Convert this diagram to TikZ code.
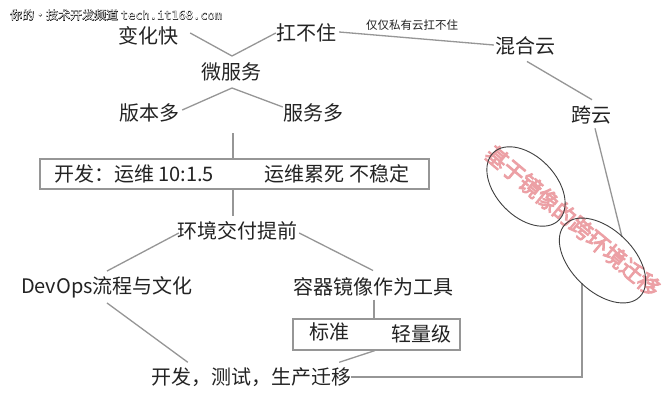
\documentclass[tikz,border=0pt]{standalone}
\usepackage{fontspec}
\setmainfont{Noto Sans CJK SC}
\newfontfamily\cjkbold[FakeBold=4]{Noto Sans CJK SC}
\newfontfamily\monob[FakeBold=3]{DejaVu Sans Mono}
\newfontfamily\monoplain{DejaVu Sans Mono}
\usetikzlibrary{calc}
\definecolor{txt}{RGB}{35,35,35}
\definecolor{ln}{RGB}{150,150,150}
\definecolor{wmpink}{RGB}{236,160,165}
\begin{document}
\begin{tikzpicture}[x=1pt,y=-1pt,
 lbl/.style={inner sep=0pt, text=txt, font=\fontsize{20}{22}\selectfont},
 small/.style={inner sep=0pt, text=txt, font=\fontsize{11.5}{13}\selectfont},
 conn/.style={draw=ln, line width=1.3pt},
 boxn/.style={draw=ln, line width=1.1pt, inner sep=0pt},
 oval/.style={draw=black!75, line width=0.9pt}]
\useasboundingbox[fill=white] (0,0) rectangle (670,402);
% watermark top-left
\node[inner sep=0pt, anchor=west, text=black] (wmA) at (10,15) {\fontsize{12}{14}\selectfont\cjkbold 你的•技术开发频道 {\monob tech.it168.com}};
\node[inner sep=0pt, anchor=west, text=white] (wmB) at (10,15) {\fontsize{12}{14}\selectfont 你的•技术开发频道 {\monoplain tech.it168.com}};
% nodes
\node[lbl] (n1) at (148,36) {变化快};
\node[lbl] (n2) at (306,33) {扛不住};
\node[small] (note) at (412,25) {仅仅私有云扛不住};
\node[lbl] (n3) at (525,46) {混合云};
\node[lbl] (n4) at (231,72) {微服务};
\node[lbl] (n5) at (149,113) {版本多};
\node[lbl] (n6) at (313,113) {服务多};
\node[lbl] (n7) at (591,115) {跨云};
\node[boxn, minimum width=389pt, minimum height=30pt] (box1) at (234.5,174) {};
\node[lbl] (t1) at (134,174) {开发：运维 10:1.5};
\node[lbl] (t2) at (337,174) {运维累死 不稳定};
\node[lbl] (n8) at (237,231) {环境交付提前};
\node[lbl] (n9) at (107,287) {DevOps流程与文化};
\node[lbl] (n10) at (373,287) {容器镜像作为工具};
\node[boxn, minimum width=167pt, minimum height=31pt] (box2) at (376.5,334.5) {};
\node[lbl] (t3) at (329,332) {标准};
\node[lbl] (t4) at (421,334) {轻量级};
\node[lbl] (n11) at (251,377) {开发，测试，生产迁移};
% coordinates
\coordinate (a1) at (232,56);
\coordinate (a2) at (232,88);
\coordinate (c1) at (233,133);
\coordinate (c2) at (233,216);
\coordinate (c3) at (582,283);
\coordinate (c4) at (622,237);
\coordinate (c5) at ([shift={(1,3)}]n10.south);
% connectors
\draw[conn] ([shift={(12,-3)}]n1.east) -- (a1) -- (n2.west);
\draw[conn] ([shift={(3,-1)}]n2.east) -- ([shift={(-1,-1)}]n3.west);
\draw[conn] ([shift={(3,-3)}]n5.east) -- (a2) -- ([shift={(0,-6)}]n6.west);
\draw[conn] ([shift={(2,6)}]n3.south) -- ([shift={(1,-6)}]n7.north);
\draw[conn] (c1) -- (c1 |- box1.north);
\draw[conn] (c1 |- box1.south) -- (c2);
\draw[conn] ([shift={(2,2)}]n8.west) -- ([shift={(0,-5)}]n9.north);
\draw[conn] ([shift={(2,2)}]n8.east) -- ([shift={(0,-7)}]n10.north);
\draw[conn] ([shift={(0,5)}]n9.south) -- ([shift={(37,-5)}]n11.north west);
\draw[conn] ([xshift=-1.5pt]box2.south) -- ([shift={(-12,-5)}]n11.north east);
\draw[conn] (c5) -- (c5 |- box2.north);
\draw[conn] (n11.east) -| (c3);
\draw[conn] ([shift={(4,4)}]n7.south) -- (c4);
% red diagonal text and ovals
\node[inner sep=0pt, text=wmpink, rotate=-40, font=\fontsize{22}{24}\selectfont\cjkbold] (wmC) at (573,221) {基于镜像的跨环境迁移};
\draw[oval] (526,186.5) ellipse [x radius=47, y radius=30, rotate=-46];
\draw[oval] (602.5,260.5) ellipse [x radius=52, y radius=31, rotate=-44];
\end{tikzpicture}
\end{document}
